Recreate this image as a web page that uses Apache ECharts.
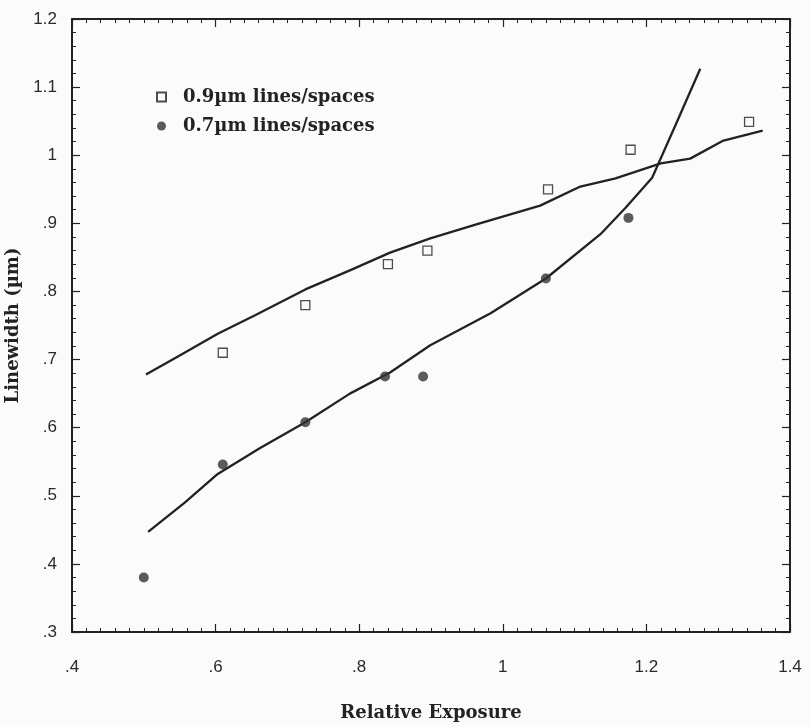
<!DOCTYPE html>
<html>
<head>
<meta charset="utf-8">
<script src="https://cdn.jsdelivr.net/npm/echarts@6/dist/echarts.min.js"></script>
<style>
    html, body { margin: 0; padding: 0; background: #fbfbfb; }
    #chart { width: 810px; height: 727px; }
</style>
</head>
<body>
<div id="chart"></div>
<script>
// measured points, 0.9um lines/spaces (open squares)
const sq09 = [[0.61, 0.71], [0.725, 0.78], [0.84, 0.84], [0.895, 0.86], [1.063, 0.95], [1.178, 1.008], [1.343, 1.049]];
// measured points, 0.7um lines/spaces (filled dots)
const dot07 = [[0.50, 0.38], [0.61, 0.546], [0.725, 0.608], [0.836, 0.675], [0.889, 0.675], [1.06, 0.819], [1.175, 0.908]];
// fitted curves
const fit09 = [[0.503, 0.678], [0.55, 0.706], [0.603, 0.738], [0.655, 0.765], [0.725, 0.803], [0.787, 0.831],
    [0.843, 0.857], [0.899, 0.878], [0.962, 0.898], [1.052, 0.926], [1.108, 0.954], [1.157, 0.966],
    [1.22, 0.988], [1.261, 0.995], [1.306, 1.021], [1.362, 1.036]];
const fit07 = [[0.506, 0.447], [0.557, 0.49], [0.603, 0.532], [0.662, 0.57], [0.725, 0.608], [0.787, 0.65],
    [0.843, 0.681], [0.899, 0.721], [0.983, 0.768], [1.06, 0.819], [1.136, 0.884], [1.171, 0.923],
    [1.208, 0.967], [1.24, 1.043], [1.275, 1.127]];
const seriesNames = ['0.9µm lines/spaces', '0.7µm lines/spaces'];

const ink = '#222';
const serif = 'DejaVu Serif';

function tickText (v) {
    let r = Math.round(v * 10) / 10;
    return String(r).replace(/^0\./, '.');
}

function frameAxis (pos, isX, main) {
    return {
        type: 'value',
        position: pos,
        min: isX ? 0.4 : 0.3,
        max: isX ? 1.4 : 1.2,
        interval: isX ? 0.2 : 0.1,
        axisLine: { show: true, onZero: false, lineStyle: { color: ink, width: 2 } },
        axisTick: { show: true, inside: true, length: 8, lineStyle: { color: ink, width: 1.2 } },
        minorTick: { show: true, splitNumber: isX ? 10 : 5, length: 4, lineStyle: { color: ink, width: 1 } },
        splitLine: { show: false },
        axisLabel: main ? {
            show: true,
            formatter: tickText,
            color: '#2a2a2a',
            fontFamily: 'Liberation Sans Narrow, Liberation Sans',
            fontSize: 17,
            margin: isX ? 27 : 15
        } : { show: false }
    };
}

let xMain = frameAxis('bottom', true, true);
xMain.name = 'Relative Exposure';
xMain.nameLocation = 'middle';
xMain.nameGap = 72;
xMain.nameTextStyle = { fontFamily: serif, fontWeight: 'bold', fontSize: 18, color: ink };

let yMain = frameAxis('left', false, true);
yMain.name = 'Linewidth (µm)';
yMain.nameLocation = 'middle';
yMain.nameGap = 40;
yMain.nameTextStyle = { fontFamily: serif, fontWeight: 'bold', fontSize: 18, color: ink };

let myChart = echarts.init(document.getElementById('chart'));
myChart.setOption({
    backgroundColor: '#fbfbfb',
    animation: false,
    grid: { left: 72, right: 20, top: 19, bottom: 95, containLabel: false, outerBoundsMode: 'none' },
    legend: {
        orient: 'vertical',
        left: 151,
        top: 83,
        itemWidth: 9,
        itemHeight: 9,
        itemGap: 11,
        textStyle: { fontFamily: serif, fontWeight: 'bold', fontSize: 18, color: ink, padding: [0, 0, 0, 12] },
        data: seriesNames
    },
    xAxis: [xMain, frameAxis('top', true, false)],
    yAxis: [yMain, frameAxis('right', false, false)],
    series: [
        {
            name: seriesNames[0],
            type: 'scatter',
            data: sq09,
            symbol: 'rect',
            symbolSize: 9,
            itemStyle: { color: '#fbfbfb', borderColor: ink, borderWidth: 1.3 }
        },
        {
            name: seriesNames[1],
            type: 'scatter',
            data: dot07,
            symbol: 'circle',
            symbolSize: 10,
            itemStyle: { color: '#333' }
        },
        {
            type: 'line',
            data: fit09,
            showSymbol: false,
            symbol: 'none',
            lineStyle: { color: ink, width: 2.3 },
            z: 1
        },
        {
            type: 'line',
            data: fit07,
            showSymbol: false,
            symbol: 'none',
            lineStyle: { color: ink, width: 2.3 },
            z: 1
        }
    ]
});
</script>
</body>
</html>
